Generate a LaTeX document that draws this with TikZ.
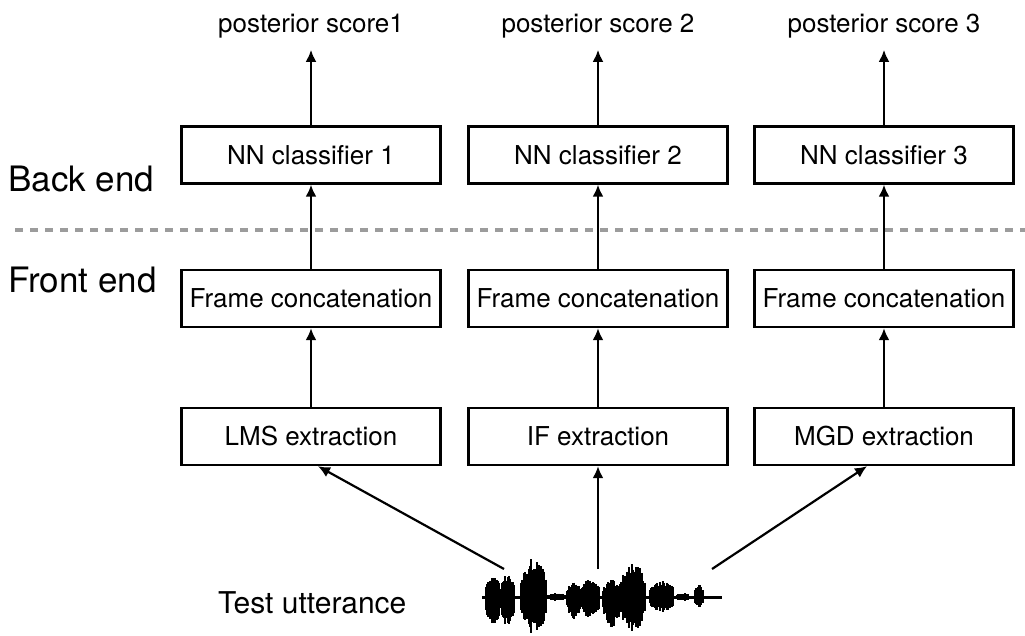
\documentclass[tikz,border=0pt]{standalone}
\usepackage{fontspec}
\setmainfont{TeX Gyre Heros}
\usetikzlibrary{arrows.meta}
\definecolor{divgray}{HTML}{9C9C9C}

\begin{document}
\begin{tikzpicture}[x=1pt,y=-1pt,>={Latex[length=12pt,width=11pt]},
  blk/.style={draw,line width=2.4pt,minimum width=259pt,minimum height=57pt,inner sep=0pt,font=\fontsize{26}{30}\selectfont},
  lbl/.style={font=\fontsize{26}{30}\selectfont,inner sep=0pt,anchor=base},
  side/.style={font=\fontsize{35}{40}\selectfont,anchor=base west,inner sep=0pt},
  flow/.style={->,line width=2.2pt},
  wave/.style={line width=2pt}]
  \useasboundingbox (0,0) rectangle (1025,636);

  % three streams
  \foreach \i/\x/\feat in {1/311/LMS, 2/598/IF, 3/884/MGD} {
    \node[blk] (nn\i)  at (\x,155) {NN classifier \i};
    \node[blk] (cat\i) at (\x,298.5) {Frame concatenation};
    \node[blk] (ext\i) at (\x,436.5) {\feat\ extraction};
    \draw[flow] (ext\i) -- (cat\i);
    \draw[flow] (cat\i) -- (nn\i);
  }
  \node[lbl] (post1) at (311,33) {posterior score1};
  \node[lbl] (post2) at (598,33) {posterior score 2};
  \node[lbl] (post3) at (884,33) {posterior score 3};
  \foreach \i in {1,2,3}
    \draw[flow] (nn\i) -- ([yshift=-11pt]post\i.south);

  % back end / front end
  \draw[divgray,line width=3.5pt,dash pattern=on 8pt off 7pt] (15,230) -- (1025,230);
  \node[side] (back) at (8,192) {Back end};
  \node[side] (front) at (8,292) {Front end};
  \node[side,font=\fontsize{30}{36}\selectfont] (utt) at (218,613) {Test utterance};

  % waveform
  \pgfmathsetseed{11}
  \draw[line width=3pt] (482,597) -- (722,597);
  \foreach \c/\w/\u/\d in {493/7/22/30, 508/7/23/30, 534/13/40/38, 557/10/4/4, 574/7/15/23, 590/10/18/21, 612/9/17/30, 633/13/35/36, 662/12/17/16, 683/6/4/4, 699/4/12/10}
    \foreach \t in {-1,-0.9,...,1} {
      \pgfmathsetmacro\px{\c+(\t)*\w}
      \pgfmathsetmacro\f{(1-0.5*(\t)*(\t))*(0.65+0.35*rnd)}
      \draw[wave] (\px,597-\f*\u) -- (\px,597+\f*\d);
    }
  \coordinate (wl) at (504,569);
  \coordinate (wm) at (598,569);
  \coordinate (wr) at (712,569);
  \draw[flow] (wl) -- ([xshift=7pt]ext1.south);
  \draw[flow] (wm) -- (ext2.south);
  \draw[flow] (wr) -- ([xshift=-17pt]ext3.south);
\end{tikzpicture}
\end{document}
